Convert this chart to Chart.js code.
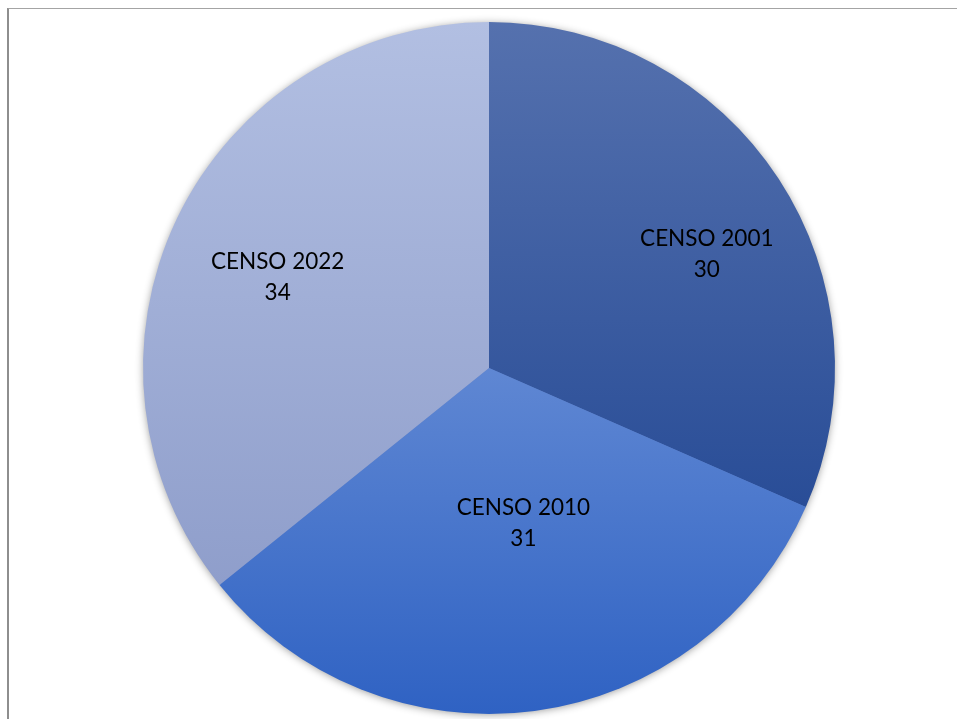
<!DOCTYPE html>
<html>
<head>
<meta charset="utf-8">
<script src="https://cdn.jsdelivr.net/npm/chart.js@4.4.1/dist/chart.umd.min.js"></script>
<style>
  html, body { margin: 0; padding: 0; background: #ffffff; }
  #wrap { position: relative; width: 957px; height: 719px; overflow: hidden; }
  #frame { position: absolute; left: 7px; top: 8px; right: -10px; bottom: -10px;
           border-left: 2px solid #8e8e8e; border-top: 1px solid #a4a4a4; }
  canvas { position: absolute; left: 0; top: 0; }
</style>
</head>
<body>
<div id="wrap">
  <div id="frame"></div>
  <canvas id="c" width="957" height="719"></canvas>
</div>
<script>
const categories = ['CENSO 2001', 'CENSO 2010', 'CENSO 2022'];
const values = [30, 31, 34];
const topColors = ['#5571ae', '#5f87d3', '#b2bfe2'];
const bottomColors = ['#294d97', '#2f62c3', '#8f9ecb'];

// label placement relative to the slice's middle angle (degrees) and radius fraction
const labelAngleShift = [5.6, -4.9, -2.3];
const labelRadiusFrac = [0.71, 0.46, 0.665];

function sliceAngles() {
  const total = values.reduce((a, b) => a + b, 0);
  let a = -Math.PI / 2;
  return values.map(v => {
    const s = a, e = a + v / total * Math.PI * 2;
    a = e;
    return [s, e];
  });
}

function sliceGradient(context) {
  const chart = context.chart;
  const area = chart.chartArea;
  if (!area) return topColors[context.dataIndex];
  const cx = (area.left + area.right) / 2, cy = (area.top + area.bottom) / 2;
  const r = Math.min(area.right - area.left, area.bottom - area.top) / 2;
  const [s, e] = sliceAngles()[context.dataIndex];
  const ys = [cy, cy + r * Math.sin(s), cy + r * Math.sin(e)];
  for (const k of [-Math.PI / 2, Math.PI / 2, 3 * Math.PI / 2]) {
    if (k >= s && k <= e) ys.push(cy + r * Math.sin(k));
  }
  const y0 = Math.min(...ys), y1 = Math.max(...ys);
  const g = chart.ctx.createLinearGradient(0, y0, 0, y1);
  g.addColorStop(0, topColors[context.dataIndex]);
  g.addColorStop(1, bottomColors[context.dataIndex]);
  return g;
}

const shadowPlugin = {
  id: 'pieShadow',
  beforeDatasetsDraw(chart) {
    const arc = chart.getDatasetMeta(0).data[0];
    if (!arc) return;
    const ctx = chart.ctx;
    ctx.save();
    ctx.shadowColor = 'rgba(0,0,0,0.45)';
    ctx.shadowBlur = 9;
    ctx.shadowOffsetX = 0;
    ctx.shadowOffsetY = 1;
    ctx.beginPath();
    ctx.arc(arc.x, arc.y, arc.outerRadius - 1, 0, Math.PI * 2);
    ctx.fillStyle = '#5a7bc0';
    ctx.fill();
    ctx.restore();
  }
};

const labelPlugin = {
  id: 'sliceLabels',
  afterDatasetsDraw(chart) {
    const ctx = chart.ctx;
    const meta = chart.getDatasetMeta(0);
    ctx.save();
    ctx.fillStyle = '#000000';
    ctx.font = '22.5px Lato, "Open Sans", sans-serif';
    ctx.textAlign = 'center';
    ctx.textBaseline = 'middle';
    meta.data.forEach((arc, i) => {
      const mid = (arc.startAngle + arc.endAngle) / 2 + labelAngleShift[i] * Math.PI / 180;
      const d = arc.outerRadius * labelRadiusFrac[i];
      const x = arc.x + d * Math.cos(mid);
      const y = arc.y + d * Math.sin(mid);
      ctx.fillText(categories[i], x, y - 15.5);
      ctx.fillText(String(values[i]), x, y + 15.5);
    });
    ctx.restore();
  }
};

new Chart(document.getElementById('c'), {
  type: 'pie',
  data: {
    labels: categories,
    datasets: [{
      data: values,
      backgroundColor: sliceGradient,
      borderWidth: 0
    }]
  },
  options: {
    responsive: false,
    devicePixelRatio: 1,
    animation: false,
    rotation: 0,
    layout: { padding: { top: 22, bottom: 5, left: 22, right: 1 } },
    plugins: {
      legend: { display: false },
      tooltip: { enabled: false },
      title: { display: false }
    }
  },
  plugins: [shadowPlugin, labelPlugin]
});
</script>
</body>
</html>
